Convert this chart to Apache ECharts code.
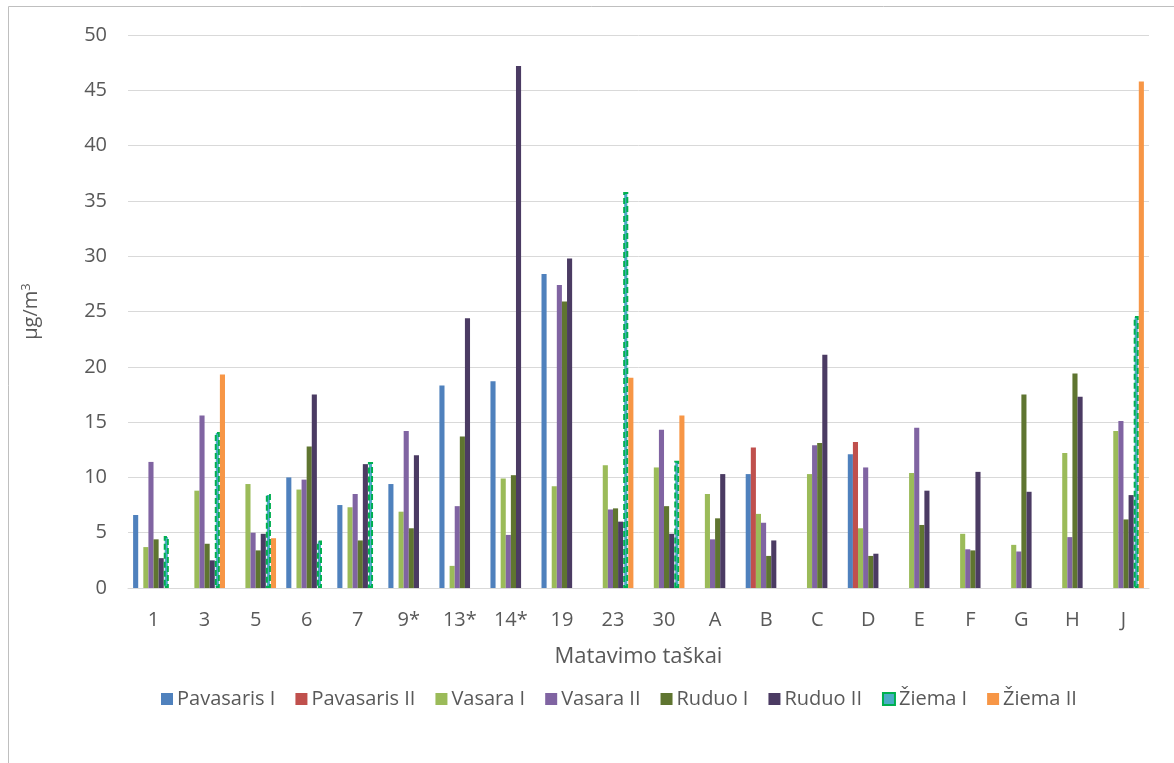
<!DOCTYPE html>
<html>
<head>
<meta charset="utf-8">
<script src="https://cdn.jsdelivr.net/npm/echarts@6/dist/echarts.min.js"></script>
<style>
  html, body { margin: 0; padding: 0; background: #ffffff; }
  #chart { width: 1174px; height: 763px; }
</style>
</head>
<body>
<div id="chart"></div>
<script>
// Matavimo taškai (measurement points)
const categories = ['1', '3', '5', '6', '7', '9*', '13*', '14*', '19', '23', '30', 'A', 'B', 'C', 'D', 'E', 'F', 'G', 'H', 'J'];

// Concentrations, µg/m³, one value per point (null = not measured)
const pavasarisI  = [6.6, null, null, 10.0, 7.5, 9.4, 18.3, 18.7, 28.4, null, null, null, 10.3, null, 12.1, null, null, null, null, null];
const pavasarisII = [null, null, null, null, null, null, null, null, null, null, null, null, 12.7, null, 13.2, null, null, null, null, null];
const vasaraI     = [3.7, 8.8, 9.4, 8.9, 7.3, 6.9, 2.0, 9.9, 9.2, 11.1, 10.9, 8.5, 6.7, 10.3, 5.4, 10.4, 4.9, 3.9, 12.2, 14.2];
const vasaraII    = [11.4, 15.6, 5.0, 9.8, 8.5, 14.2, 7.4, 4.8, 27.4, 7.1, 14.3, 4.4, 5.9, 12.9, 10.9, 14.5, 3.5, 3.3, 4.6, 15.1];
const ruduoI      = [4.4, 4.0, 3.4, 12.8, 4.3, 5.4, 13.7, 10.2, 25.9, 7.2, 7.4, 6.3, 2.9, 13.1, 2.9, 5.7, 3.4, 17.5, 19.4, 6.2];
const ruduoII     = [2.7, 2.5, 4.9, 17.5, 11.2, 12.0, 24.4, 47.2, 29.8, 6.0, 4.9, 10.3, 4.3, 21.1, 3.1, 8.8, 10.5, 8.7, 17.3, 8.4];
const ziemaI      = [4.7, 14.1, 8.5, 4.3, 11.4, null, null, null, null, 35.8, 11.5, null, null, null, null, null, null, null, null, 24.6];
const ziemaII     = [null, 19.3, 4.5, null, null, null, null, null, null, 19.0, 15.6, null, null, null, null, null, null, null, null, 45.8];

const yTicks = { min: 0, max: 50, interval: 5 };

const FONT = '"Open Sans", Lato, sans-serif';
const TEXT = '#595959';

function bar(name, data, color, extra) {
  return Object.assign({
    name: name,
    type: 'bar',
    data: data,
    barGap: '0%',
    barCategoryGap: '20%',
    itemStyle: { color: color },
    emphasis: { disabled: true }
  }, extra || {});
}

const chart = echarts.init(document.getElementById('chart'), null, { renderer: 'canvas' });

chart.setOption({
  animation: false,
  backgroundColor: '#ffffff',
  textStyle: { fontFamily: FONT, color: TEXT },
  graphic: [{
    type: 'rect',
    shape: { x: 8.5, y: 6.5, width: 1300, height: 900 },
    style: { fill: 'none', stroke: '#BFBFBF', lineWidth: 1 },
    silent: true,
    z: -1
  }],
  grid: { left: 128, right: 25, top: 35, bottom: 175, containLabel: false },
  legend: {
    top: 684,
    left: 156,
    itemWidth: 12,
    itemHeight: 12,
    itemGap: 20,
    icon: 'rect',
    textStyle: { fontFamily: FONT, fontSize: 20, color: TEXT, padding: [0, 0, 0, -1] },
    data: ['Pavasaris I', 'Pavasaris II', 'Vasara I', 'Vasara II', 'Ruduo I', 'Ruduo II', 'Žiema I', 'Žiema II']
  },
  xAxis: {
    type: 'category',
    data: categories,
    name: 'Matavimo taškai',
    nameLocation: 'middle',
    nameGap: 58,
    nameTextStyle: { fontFamily: FONT, fontSize: 22, color: TEXT },
    axisLine: { lineStyle: { color: '#D9D9D9', width: 1 } },
    axisTick: { show: false },
    axisLabel: { fontFamily: FONT, fontSize: 20, color: TEXT, margin: 22, interval: 0 }
  },
  yAxis: {
    type: 'value',
    min: yTicks.min,
    max: yTicks.max,
    interval: yTicks.interval,
    name: '{n|µg/m}{s|3}',
    nameLocation: 'middle',
    nameGap: 86,
    nameRotate: 90,
    nameTextStyle: {
      rich: {
        n: { fontFamily: FONT, fontSize: 20, color: TEXT },
        s: { fontFamily: FONT, fontSize: 13, color: TEXT, verticalAlign: 'top', padding: [0, 0, 9, 0] }
      }
    },
    axisLine: { show: false },
    axisTick: { show: false },
    splitLine: { lineStyle: { color: '#D9D9D9', width: 1 } },
    axisLabel: { fontFamily: FONT, fontSize: 20, color: TEXT, margin: 21 }
  },
  series: [
    bar('Pavasaris I', pavasarisI, '#4F81BD'),
    bar('Pavasaris II', pavasarisII, '#C0504D'),
    bar('Vasara I', vasaraI, '#9BBB59'),
    bar('Vasara II', vasaraII, '#8064A2'),
    bar('Ruduo I', ruduoI, '#5F7530'),
    bar('Ruduo II', ruduoII, '#4B3B63'),
    bar('Žiema I', ziemaI, '#4BACC6', {
      itemStyle: { color: '#4BACC6', borderColor: '#00B050', borderWidth: 2, borderType: [6, 3] }
    }),
    bar('Žiema II', ziemaII, '#F79646')
  ]
});
</script>
</body>
</html>
